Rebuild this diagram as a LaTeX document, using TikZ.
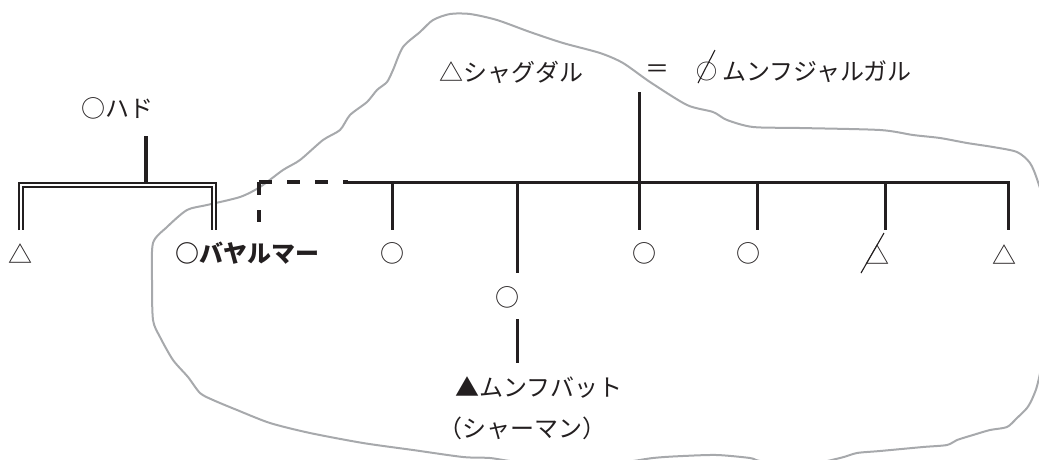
\documentclass[tikz,border=0pt]{standalone}
\usepackage{fontspec}
\setmainfont{Noto Sans CJK JP}
\definecolor{ink}{HTML}{231F20}
\definecolor{blob}{HTML}{A7A9AC}
\begin{document}
\begin{tikzpicture}[x=1pt,y=-1pt,
  lbl/.style={font=\fontsize{24}{28}\selectfont, text=ink, inner sep=0pt},
  lblb/.style={lbl, font=\fontsize{24}{28}\selectfont\bfseries},
  kin/.style={draw=ink, line width=3pt},
  kinthick/.style={draw=ink, line width=4.6pt},
  kindbl/.style={draw=ink, line width=2.2pt, double=white, double distance=2.1pt},
  kindash/.style={draw=ink, line width=4pt, dash pattern=on 13pt off 15pt},
  strike/.style={draw=ink, line width=1.1pt},
  outline/.style={draw=blob, line width=2pt, line join=round}]
\useasboundingbox (0,0) rectangle (1039,459);
\begin{scope}
\clip (0,0) rectangle (1039,459);
\draw[outline] plot[smooth cycle, tension=0.45] coordinates {
 (152,280) (153,243) (167,227) (187,210) (207,205) (240,197) (260,187)
 (283,170) (300,160) (323,140) (340,130) (350,115) (367,102) (377,90)
 (387,82) (393,70) (403,47) (420,32) (433,20) (450,14) (470,14) (497,20)
 (530,32) (563,43) (600,53) (623,63) (650,82) (687,105) (713,112)
 (727,120) (753,127) (800,128) (880,130) (913,135) (940,138) (967,143)
 (993,147) (1017,152) (1030,163) (1038,182) (1052,230) (1054,300)
 (1039,378) (1033,397) (1027,408) (1017,418) (1007,427) (990,430)
 (973,435) (957,440) (947,445) (923,447) (880,451) (857,453) (840,458)
 (800,466) (760,461) (750,458) (717,455) (683,456) (653,458) (600,465)
 (520,462) (490,458) (463,457) (413,450) (363,443) (310,433) (270,423)
 (237,410) (213,400) (200,393) (188,377) (173,360) (160,337) (153,320)};
\end{scope}

% labels
\node[lbl] (hado) at (117,108) {○ハド};
\node[lbl] (t1) at (21,254) {△};
\node[lblb] (bayar) at (247,253) {○バヤルマー};
\node[lbl] (c1) at (392,253) {○};
\node[lbl] (c2) at (507,297) {○};
\node[lbl] (c3) at (644,253) {○};
\node[lbl] (c4) at (748,253) {○};
\node[lbl] (t2) at (877,255) {△};
\node[lbl] (t3) at (1004,255) {△};
\node[lbl] (shag) at (511,72) {△シャグダル};
\node[lbl] (eq) at (657,71) {＝};
\node[lbl, font=\fontsize{21}{24}\selectfont] (phi) at (707,72) {○};
\node[lbl] (munj) at (817,72) {ムンフジャルガル};
\node[lbl] (munb) at (539,387) {▲ムンフバット};
\node[lbl] (sham) at (522,428) {（シャーマン）};

% junction coordinates
\coordinate (hTop) at (146,136);
\coordinate (hJ) at (146,182);
\coordinate (dL) at (21,230);
\coordinate (dR) at (214,230);
\coordinate (dk) at (259,182);
\coordinate (dkE) at (348,182);
\coordinate (dkS) at (259,222);
\coordinate (mE) at (1008,182);
\coordinate (v1) at (392,182);
\coordinate (v2) at (517,182);
\coordinate (v3) at (639,182);
\coordinate (v4) at (757,182);
\coordinate (v5) at (885,182);
\coordinate (mTop) at (639,92);

% parents of Bayarmaa
\draw[kinthick] (hTop) -- (hJ);
\draw[kindbl] (dL) -- (21,185) -- (214,185) -- (dR);

% dashed link
\draw[kindash] (dk) -- (dkE);
\draw[kindash] (dk) -- (dkS);

% sibling line
\draw[kin, line join=miter] (dkE) -- (mE) -- (1008,230);
\draw[kin] (v1) -- (392,230);
\draw[kin] (v2) -- (517,273);
\draw[kin] (mTop) -- (639,230);
\draw[kin] (v4) -- (757,230);
\draw[kin] (v5) -- (885,230);
\draw[kin] (517,319) -- (517,363);

% strikes
\draw[strike] (884,233) -- (861,273);
\draw[strike] (715,50) -- (698,83);
\end{tikzpicture}
\end{document}
